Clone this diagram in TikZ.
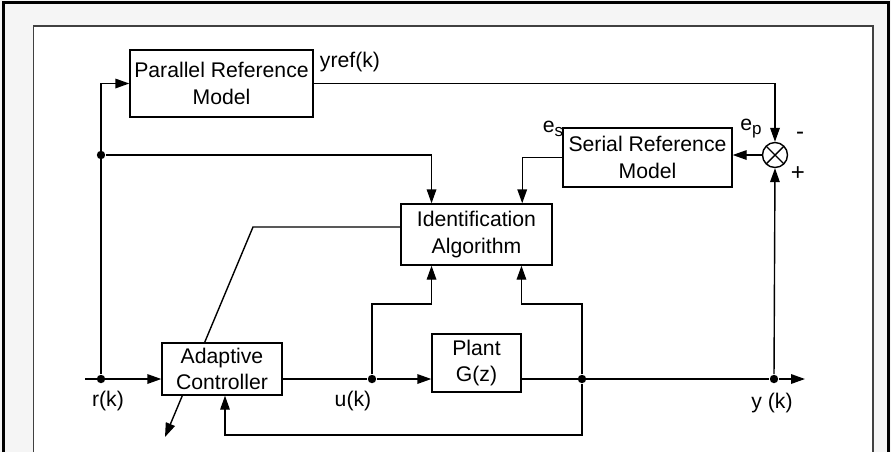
\documentclass[tikz,border=0pt]{standalone}
\usepackage{fontspec}
\setmainfont{Liberation Sans}
\usetikzlibrary{arrows.meta,calc}
\tikzset{
	block/.style={draw, fill=white, align=center, inner sep=0pt},
	sig/.style={-{Triangle[length=7pt,width=4.8pt]}},
	jdot/.style={circle, fill, inner sep=0pt, minimum size=4.2pt},
	summer/.style={draw, circle, fill=white, minimum size=12.5pt, inner sep=0pt,
		path picture={\draw (path picture bounding box.north west) -- (path picture bounding box.south east)
			(path picture bounding box.north east) -- (path picture bounding box.south west);}}
	}
\newcommand{\subidx}[1]{\raisebox{-0.35ex}{\fontsize{8.5}{8.5}\selectfont #1}}

\begin{document}
\begin{tikzpicture}[x=0.5pt, y=-0.5pt, line width=0.7pt, font=\fontsize{10.6}{13.4}\selectfont]

	\useasboundingbox (0,0) rectangle (891,452);

	% frame
	\fill[black!4] (0,0) rectangle (891,452);
	\fill[white] (33.5,26) rectangle (873,452);
	\draw[line width=1.6pt] (3.5,452) -- (3.5,2.5) -- (888.5,2.5) -- (888.5,452);
	\draw[line width=0.9pt, black!75] (33.5,452) -- (33.5,26) -- (873,26) -- (873,452);

	% blocks
	\node[block, minimum width=91.5pt, minimum height=33.5pt] (prm) at (221.5,83.5) {Parallel Reference\\Model};
	\node[block, minimum width=75.5pt, minimum height=30.5pt] (ida) at (476.5,234.5) {Identification\\Algorithm};
	\node[block, minimum width=84.5pt, minimum height=29.5pt] (srm) at (647.5,157.5) {Serial Reference\\Model};
	\node[summer] (sum) at (775,155) {};

	% adaptation arrow (runs behind the controller)
	\coordinate (bend) at (253,227);
	\coordinate (tip) at (165,437);
	\draw[sig] ($(ida.north west)!0.38!(ida.south west)$) -- (bend) -- (tip);

	\node[block, minimum width=60pt, minimum height=26pt] (ac) at (222,369) {Adaptive\\Controller};
	\node[block, minimum width=44.5pt, minimum height=29pt] (plant) at (476.5,363) {Plant\\G(z)};

	% signal points
	\coordinate (rin) at (85,379);
	\node[jdot] (rj) at (101,379) {};
	\node[jdot] (tap) at (101,155) {};
	\node[jdot] (uj) at (372,379) {};
	\node[jdot] (yj) at (582,379) {};
	\node[jdot] (oj) at (774,379) {};
	\coordinate (yout) at (805,379);
	\coordinate (idtl) at ($(ida.north west)!0.205!(ida.north east)$);
	\coordinate (idtr) at ($(ida.north west)!0.8!(ida.north east)$);
	\coordinate (idbl) at ($(ida.south west)!0.205!(ida.south east)$);
	\coordinate (idbr) at ($(ida.south west)!0.795!(ida.south east)$);

	% reference path
	\draw[sig] (rin) -- (rin -| ac.west);
	\draw[sig] (rj) -- (rj |- prm.west) -- (prm.west);
	\draw[sig] (tap) -| (idtl);
	\draw[sig] (prm.east) -| (sum.north);
	\draw[sig] (sum.west) -- (sum.west -| srm.east);
	\draw[sig] (srm.west) -| (idtr);

	% control loop
	\draw (ac.east |- uj) -- (uj);
	\draw[sig] (uj) -- (uj -| plant.west);
	\draw[sig] (uj) -- ++(0,-75) -| (idbl);
	\draw (plant.east |- yj) -- (oj);
	\draw[sig] (oj) -- (yout);
	\draw[sig] (yj) -- ++(0,56) -| ([xshift=1.5pt]ac.south);
	\draw[sig] (yj) -- ++(0,-75) -| (idbr);
	\draw[sig] (oj) -- (sum.south);

	% annotation
	\node (yref) at (350,62) {yref(k)};
	\node (rk) at (108,401) {r(k)};
	\node (uk) at (353,401) {u(k)};
	\node (yk) at (772,403) {y (k)};
	\node (ep) at (751,129) {e\subidx{p}};
	\node (es) at (553,129) {e\subidx{s}};
	\node (minus) at (800,136) {\fontsize{12}{12}\selectfont -};
	\node (plus) at (798,174) {\fontsize{12}{12}\selectfont +};

\end{tikzpicture}
\end{document}
